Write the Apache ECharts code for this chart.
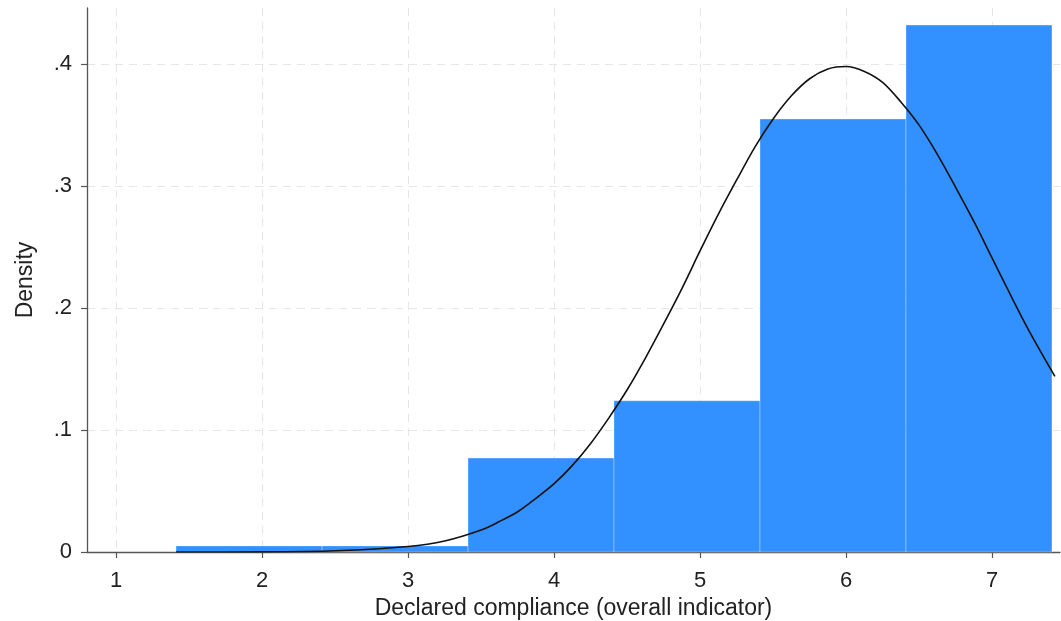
<!DOCTYPE html>
<html><head><meta charset="utf-8">
<script src="https://cdn.jsdelivr.net/npm/echarts@6/dist/echarts.min.js"></script>
<style>html,body{margin:0;padding:0;background:#fff}#c{width:1061px;height:621px}</style>
</head><body><div id="c"></div>
<script>
// Histogram bins (lower edge, upper edge) and densities
const binStarts = [1.41, 2.41, 3.41, 4.41, 5.41, 6.41];
const binEnds   = [2.41, 3.41, 4.41, 5.41, 6.41, 7.41];
const densities = [0.005, 0.005, 0.077, 0.124, 0.355, 0.432];
// Normal density curve
const curveX = [1.41, 2.0, 2.5, 3.0, 3.25, 3.5, 3.625, 3.75, 3.875, 4.0, 4.125, 4.25, 4.375, 4.5, 4.625, 4.75, 4.875, 5.0, 5.125, 5.25, 5.375, 5.5, 5.625, 5.75, 5.875, 6.0, 6.125, 6.25, 6.375, 6.5, 6.625, 6.75, 6.875, 7.0, 7.125, 7.25, 7.43];
const curveY = [0.0000, 0.0001, 0.0010, 0.0045, 0.0090, 0.018, 0.025, 0.033, 0.044, 0.056, 0.071, 0.089, 0.110, 0.133, 0.159, 0.187, 0.216, 0.247, 0.277, 0.305, 0.332, 0.355, 0.374, 0.388, 0.396, 0.398, 0.394, 0.385, 0.369, 0.350, 0.326, 0.299, 0.271, 0.241, 0.211, 0.182, 0.144];
const xTicks = [1, 2, 3, 4, 5, 6, 7];
const yTicks = [0, 0.1, 0.2, 0.3, 0.4];
const yTickLabels = ['0', '.1', '.2', '.3', '.4'];
const xTitle = 'Declared compliance (overall indicator)';
const yTitle = 'Density';

const barData = binStarts.map((s, i) => [s, binEnds[i], densities[i]]);
const lineData = curveX.map((x, i) => [x, curveY[i]]);

const chart = echarts.init(document.getElementById('c'));
const font = 'Liberation Sans, Arial, Helvetica, sans-serif';
chart.setOption({
  animation: false,
  grid: { left: 87, right: 1, top: 8, bottom: 69, containLabel: false, outerBoundsMode: 'none' },
  xAxis: {
    type: 'value', min: 0.8, max: 7.465,
    axisLine: { show: true, onZero: false, lineStyle: { color: '#555', width: 1.3 } },
    axisTick: { show: true, length: 6, lineStyle: { color: '#555', width: 1.2 }, customValues: xTicks },
    axisLabel: { color: '#222', fontSize: 22, fontFamily: font, margin: 18, customValues: xTicks, formatter: v => String(v) },
    splitLine: { show: true, lineStyle: { color: '#e6e6e6', type: [8, 6], width: 1 }, customValues: xTicks },
    name: xTitle, nameLocation: 'middle', nameGap: 44,
    nameTextStyle: { color: '#222', fontSize: 23, fontFamily: font }
  },
  yAxis: {
    type: 'value', min: 0, max: 0.446,
    axisLine: { show: true, lineStyle: { color: '#555', width: 1.3 } },
    axisTick: { show: true, length: 6, lineStyle: { color: '#555', width: 1.2 }, customValues: yTicks },
    axisLabel: { color: '#222', fontSize: 22, fontFamily: font, margin: 15,
      customValues: yTicks,
      formatter: v => yTickLabels[Math.round(v * 10)] },
    splitLine: { show: true, lineStyle: { color: '#e6e6e6', type: [8, 6], width: 1 }, customValues: yTicks },
    name: yTitle, nameLocation: 'middle', nameGap: 50, nameRotate: 90,
    nameTextStyle: { color: '#222', fontSize: 23, fontFamily: font }
  },
  series: [
    {
      type: 'custom',
      data: barData,
      encode: { x: [0, 1], y: 2 },
      renderItem: (params, api) => {
        const p0 = api.coord([api.value(0), 0]);
        const p1 = api.coord([api.value(1), api.value(2)]);
        return {
          type: 'rect',
          shape: { x: p0[0], y: p1[1], width: p1[0] - p0[0], height: p0[1] - p1[1] },
          style: { fill: '#3390ff', stroke: 'rgba(255,255,255,0.3)', lineWidth: 1 }
        };
      },
      z: 2
    },
    {
      type: 'line',
      data: lineData,
      smooth: 0.3,
      showSymbol: false,
      lineStyle: { color: '#111', width: 1.6 },
      z: 3
    }
  ]
});
</script></body></html>
